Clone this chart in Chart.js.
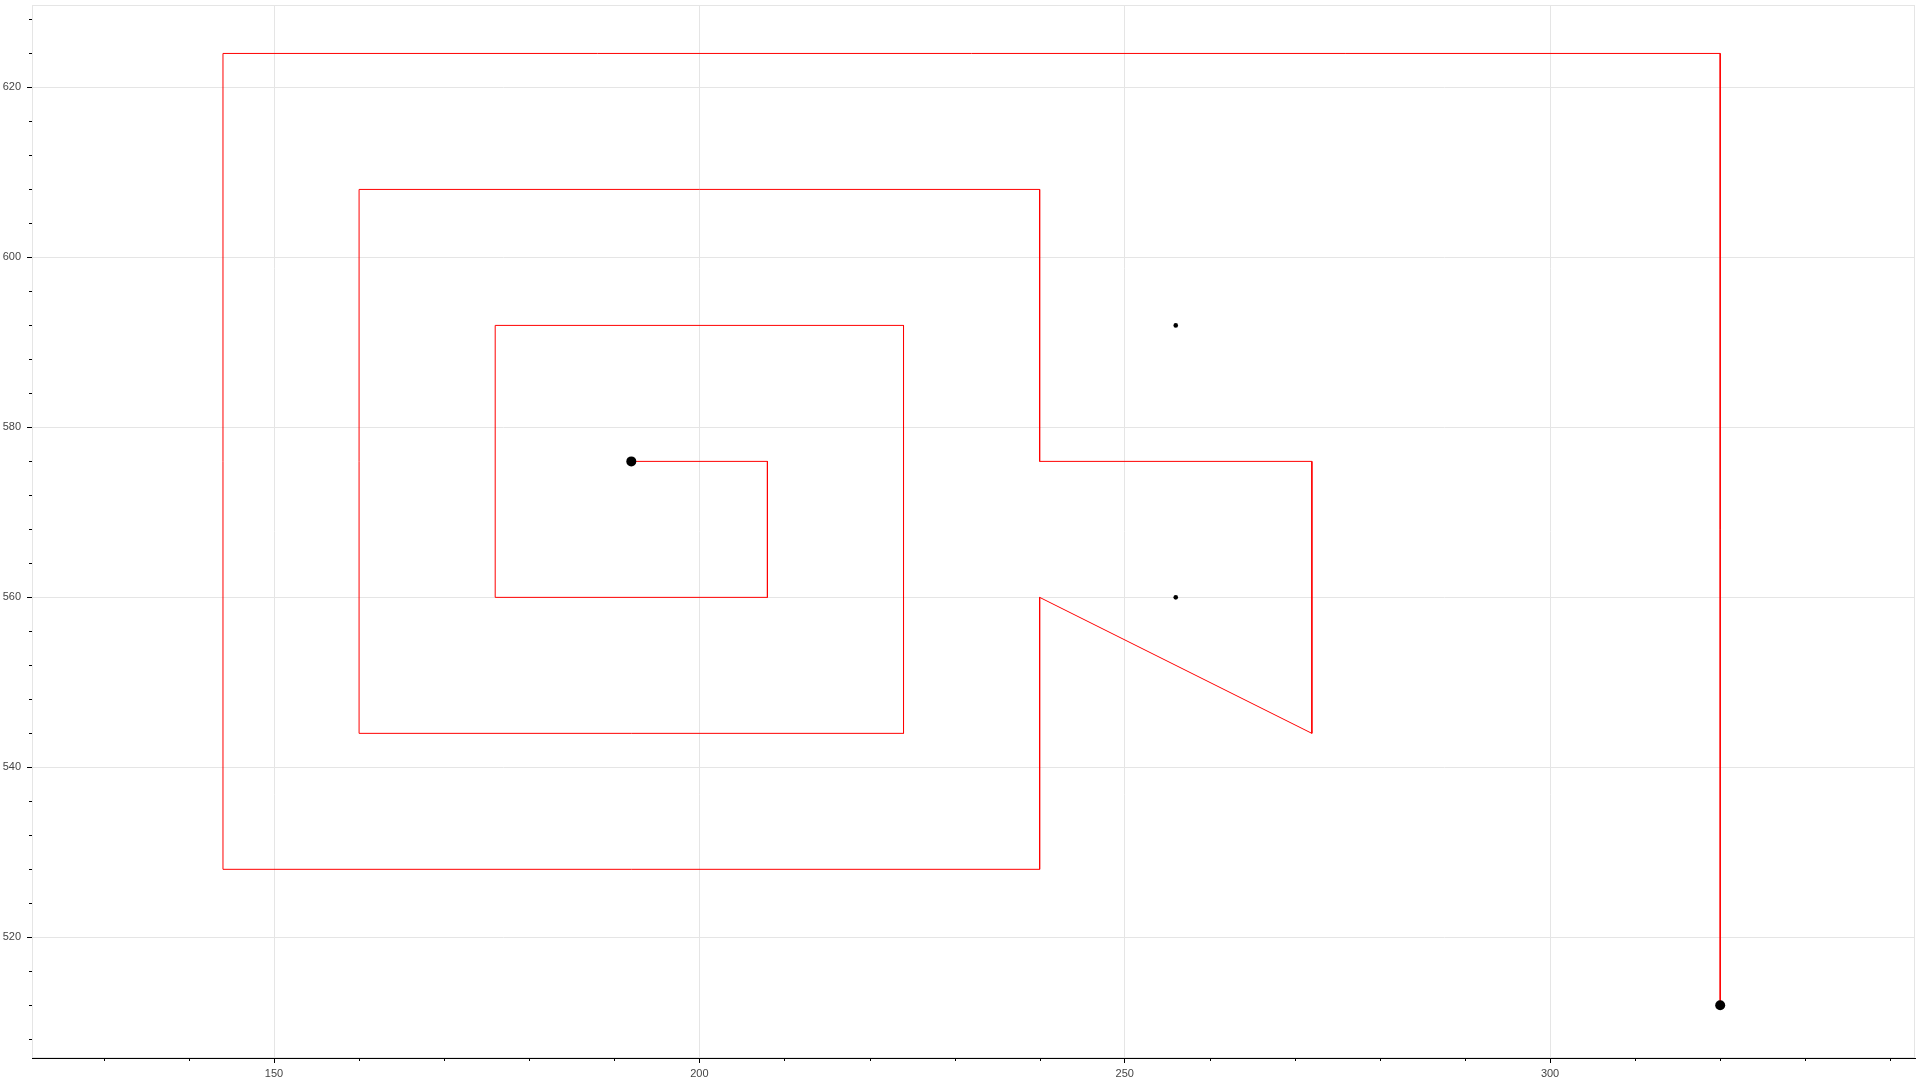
<!DOCTYPE html>
<html>
<head>
<meta charset="utf-8">
<script src="https://cdn.jsdelivr.net/npm/chart.js@4/dist/chart.umd.min.js"></script>
<style>
  html,body{margin:0;padding:0;background:#fff;}
  #wrap{width:1920px;height:1080px;}
</style>
</head>
<body>
<div id="wrap"><canvas id="spiralChart" width="1920" height="1080"></canvas></div>
<script>
// path vertices (walk order)
const pathX = [192, 208, 208, 176, 176, 224, 224, 160, 160, 240, 240, 272, 272, 240, 240, 144, 144, 320, 320];
const pathY = [576, 576, 560, 560, 592, 592, 544, 544, 608, 608, 576, 576, 544, 560, 528, 528, 624, 624, 512];

// dots
const bigDotX = [192, 320];
const bigDotY = [576, 512];
const smallDotX = [256, 256];
const smallDotY = [592, 560];

// axes
const xRange = [121.55, 342.9];
const yRange = [505.8, 629.7];
const xMajorTicks = [150, 200, 250, 300];
const xMinorTicks = [130, 140, 160, 170, 180, 190, 210, 220, 230, 240, 260, 270, 280, 290, 310, 320, 330, 340];
const yMajorTicks = [520, 540, 560, 580, 600, 620];
const yMinorTicks = [508, 512, 516, 524, 528, 532, 536, 544, 548, 552, 556, 564, 568, 572, 576, 584, 588, 592, 596, 604, 608, 612, 616, 624, 628];

const zip = (xs, ys)=> xs.map((x, i)=> ({ x, y: ys[i] }));

(function(){
  const ctx = document.getElementById('spiralChart');

  // light frame round the plot area + short minor ticks
  const framePlugin = {
    id: 'frame',
    beforeDatasetsDraw(chart){
      const { ctx: c, chartArea: a } = chart;
      c.save();
      c.strokeStyle = '#e5e5e5';
      c.lineWidth = 1;
      c.strokeRect(a.left + 0.5, a.top + 0.5, a.right - a.left - 1, a.bottom - a.top - 1);
      c.restore();
    },
    afterDraw(chart){
      const { ctx: c, chartArea: a, scales } = chart;
      c.save();
      c.strokeStyle = '#000';
      c.lineWidth = 1;
      c.beginPath();
      xMinorTicks.forEach(v=>{
        const px = Math.round(scales.x.getPixelForValue(v)) + 0.5;
        c.moveTo(px, a.bottom);
        c.lineTo(px, a.bottom + 3);
      });
      yMinorTicks.forEach(v=>{
        const py = Math.round(scales.y.getPixelForValue(v)) + 0.5;
        c.moveTo(a.left - 3, py);
        c.lineTo(a.left, py);
      });
      c.stroke();
      c.restore();
    }
  };

  const tickFont = { family: '"Liberation Sans", Arial, sans-serif', size: 11 };

  new Chart(ctx, {
    type: 'scatter',
    data: {
      datasets: [
        {
          label: 'path',
          data: zip(pathX, pathY),
          showLine: true,
          borderColor: '#ff0000',
          borderWidth: 1,
          pointRadius: 0,
          tension: 0,
          order: 2
        },
        {
          label: 'ends',
          data: zip(bigDotX, bigDotY),
          pointRadius: 5,
          pointBackgroundColor: '#000',
          pointBorderWidth: 0,
          order: 1
        },
        {
          label: 'marks',
          data: zip(smallDotX, smallDotY),
          pointRadius: 2.3,
          pointBackgroundColor: '#000',
          pointBorderWidth: 0,
          order: 1
        }
      ]
    },
    options: {
      responsive: false,
      animation: false,
      devicePixelRatio: 1,
      layout: { padding: { top: 5, right: 5, left: 0, bottom: 0 } },
      plugins: { legend: { display: false }, tooltip: { enabled: false } },
      scales: {
        x: {
          type: 'linear',
          min: xRange[0],
          max: xRange[1],
          afterBuildTicks: (s)=>{ s.ticks = xMajorTicks.map(v=>({ value: v })); },
          afterFit: (s)=>{ s.height = 22; s.paddingLeft = 0; s.paddingRight = 0; },
          grid: { color: '#e5e5e5', tickColor: '#000', tickLength: 5 },
          border: { color: '#000', width: 1 },
          ticks: { color: '#444', font: tickFont, padding: 4, maxRotation: 0 }
        },
        y: {
          type: 'linear',
          min: yRange[0],
          max: yRange[1],
          afterBuildTicks: (s)=>{ s.ticks = yMajorTicks.map(v=>({ value: v })); },
          afterFit: (s)=>{ s.width = 32; s.paddingTop = 0; s.paddingBottom = 0; },
          grid: { color: '#e5e5e5', tickColor: '#000', tickLength: 5 },
          border: { color: '#000', width: 1 },
          ticks: { color: '#444', font: tickFont, padding: 6 }
        }
      }
    },
    plugins: [framePlugin]
  });
})();
</script>
</body>
</html>
